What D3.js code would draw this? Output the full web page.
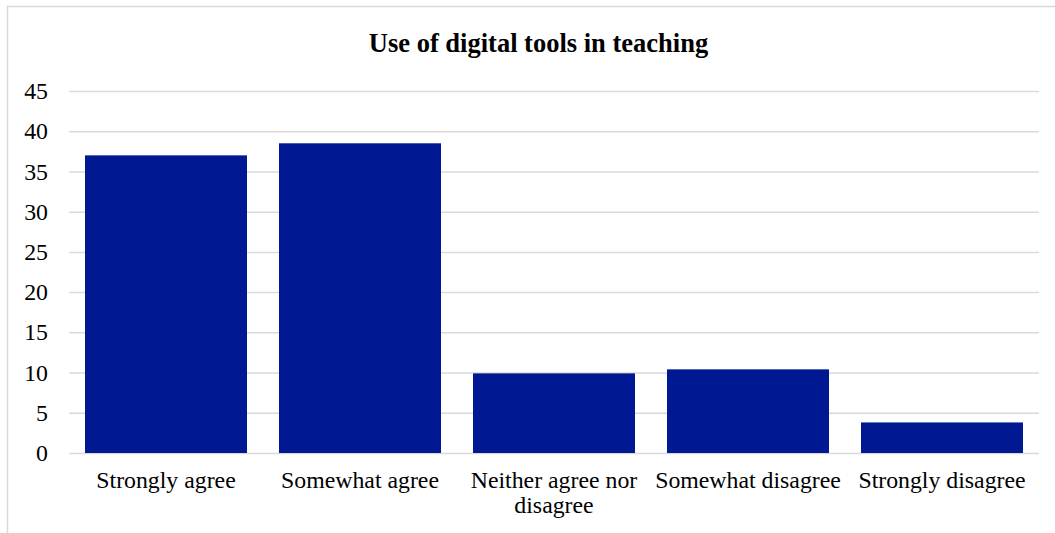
<!DOCTYPE html>
<html><head><meta charset="utf-8">
<script src="https://cdn.jsdelivr.net/npm/d3@7"></script>
<style>body{margin:0;background:#fff}svg{display:block}text{font-family:"Liberation Serif","Times New Roman",serif;fill:#000}</style>
</head><body>
<script>
const categories = ["Strongly agree","Somewhat agree","Neither agree nor disagree","Somewhat disagree","Strongly disagree"];
const values = [37, 38.5, 9.9, 10.4, 3.8];
const yTicks = [0,5,10,15,20,25,30,35,40,45];
const title = "Use of digital tools in teaching";

const W = 1055, H = 533;
const svg = d3.select("body").append("svg").attr("width", W).attr("height", H);
svg.append("rect").attr("x",7.5).attr("y",6.5).attr("width",1060).attr("height",600)
  .attr("fill","none").attr("stroke","#d9d9d9").attr("stroke-width",1.5);

const m = {left:69, right:1039, top:91, bottom:453};
const x = d3.scaleBand().domain(categories).range([m.left, m.right]).paddingInner(0.165).paddingOuter(0.0825);
const y = d3.scaleLinear().domain([0,45]).range([m.bottom, m.top]);

svg.append("text").attr("x",538.5).attr("y",52).attr("text-anchor","middle")
  .attr("font-size","26.5px").attr("font-weight","bold").text(title);

const yAxis = d3.axisLeft(y).tickValues(yTicks).tickSize(-(m.right-m.left)).tickPadding(21);
const gy = svg.append("g").attr("transform",`translate(${m.left},0)`).call(yAxis);
gy.select(".domain").remove();
gy.selectAll(".tick line").attr("stroke","#d9d9d9").attr("stroke-width",1.5);
gy.selectAll(".tick text").attr("font-size","23.8px").attr("fill","#000")
  .style("font-family",'"Liberation Serif",serif');

svg.append("g").selectAll("rect").data(values).join("rect")
  .attr("x",(d,i)=>x(categories[i])).attr("width",x.bandwidth())
  .attr("y",d=>y(d)).attr("height",d=>y(0)-y(d)).attr("fill","#001993");

const xAxis = d3.axisBottom(x).tickSize(0).tickPadding(0);
const gx = svg.append("g").attr("transform",`translate(0,${m.bottom})`).call(xAxis);
gx.select(".domain").remove();
gx.selectAll(".tick text").attr("font-size","23.8px").attr("fill","#000")
  .style("font-family",'"Liberation Serif",serif')
  .each(function(d){
    const t = d3.select(this); t.text(null);
    const words = d.split(" "); let lines=[]; let cur="";
    const maxW = x.step();
    const tmp = t.append("tspan");
    words.forEach(w=>{
      const test = cur? cur+" "+w : w;
      tmp.text(test);
      if (tmp.node().getComputedTextLength() > maxW && cur){ lines.push(cur); cur=w; } else cur=test;
    });
    lines.push(cur); tmp.remove();
    lines.forEach((l,i)=>t.append("tspan").attr("x",0).attr("y",35+i*25).attr("dy",0).text(l));
  });
</script>
</body></html>
